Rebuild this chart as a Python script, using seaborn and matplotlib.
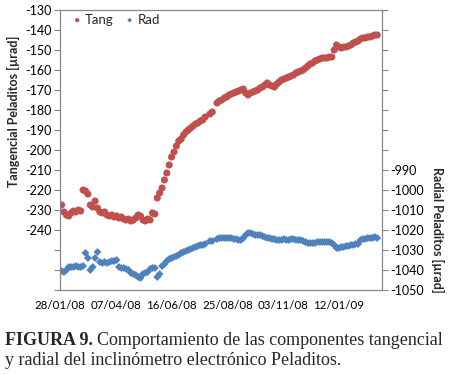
import pandas as pd
import seaborn as sns
import matplotlib.pyplot as plt
import matplotlib.dates as mdates

# day offsets from 28/01/2008 and readings (µrad)
start = pd.Timestamp('2008-01-28')
days = [2, 5, 8, 11, 14, 17, 20, 23, 26, 29,
        32, 35, 38, 41, 44, 47, 50, 53, 56, 59,
        62, 65, 68, 71, 74, 77, 80, 83, 86, 89,
        92, 95, 98, 101, 104, 107, 110, 113, 116, 119,
        122, 125, 128, 131, 134, 137, 140, 143, 146, 149,
        152, 155, 158, 161, 164, 167, 170, 173, 176, 179,
        182, 188, 191,
        197, 200, 203, 206, 209, 212, 215, 218, 221, 224,
        227, 230, 233, 236, 239, 242, 245, 248, 251, 254,
        257, 260, 263, 266, 269, 272, 275, 278, 281, 284,
        287, 290, 293, 296, 299, 302, 305, 308, 311, 314,
        317, 320, 323, 326, 329, 332, 335, 338, 341, 344,
        347, 350, 353, 356, 359, 362, 365, 368, 371, 374,
        377, 380, 383, 386, 389, 392, 395, 398]

tang = [-227.5, -231, -232.5, -233, -231.5, -230.5, -231, -230, -230.5, -220,
        -220.5, -222, -227.5, -228.5, -225.5, -229, -231, -231.5, -231, -232.5,
        -233, -232.5, -233.5, -233, -234, -233.5, -234.5, -235, -234.5, -235.5,
        -235, -234, -232.5, -233, -235, -235.5, -234.5, -235, -231.5, -232,
        -224, -221.5, -219, -215, -211.5, -207.5, -203.5, -201, -198, -195.5,
        -194.5, -192.5, -191, -190, -189, -188, -187, -186.5, -185.5, -185,
        -183.5, -182, -181,
        -176.5, -175.5, -175, -174, -173.5, -172.5, -172, -171.5, -171, -170.5,
        -170, -169.5, -171.5, -172.5, -171.5, -171, -170.5, -170, -169, -168.5,
        -167.5, -166.5, -167.5, -168, -168.5, -167, -166, -165, -164.5, -164,
        -163.5, -163, -162.5, -161.5, -161, -160.5, -160, -159, -158, -157,
        -156.5, -155.5, -155, -154.5, -154, -154, -154, -153.5, -153.5, -150,
        -147.5, -148.5, -149, -148.5, -148.5, -148, -147.5, -146.5, -146, -145.5,
        -144.5, -144, -144, -143.5, -143.5, -143, -142.5, -142.5]

rad = [-1040.5, -1041, -1040, -1038.5, -1038.5, -1038.5, -1038, -1038.5, -1038.5, -1038,
       -1031.5, -1034, -1040, -1038.5, -1034, -1031, -1036, -1036.5, -1036, -1036.5,
       -1036, -1035.5, -1035.5, -1035, -1038.5, -1039, -1039, -1039.5, -1040, -1041.5,
       -1042, -1042.5, -1043.5, -1044, -1042, -1041.5, -1041, -1039.5, -1039, -1039,
       -1043.5, -1042, -1038, -1037, -1035.5, -1034.5, -1034, -1033.5, -1033, -1032.5,
       -1031.5, -1031, -1030.5, -1030, -1029.5, -1029, -1028.5, -1028, -1027.5, -1027.5,
       -1027, -1025.5, -1025.5,
       -1024.5, -1024, -1024, -1024, -1024, -1024, -1024, -1024.5, -1024.5, -1025,
       -1025, -1024, -1022.5, -1021.5, -1021.5, -1022, -1022.5, -1022.5, -1022.5, -1023,
       -1023.5, -1024, -1024, -1024.5, -1024.5, -1025, -1025, -1025, -1024.5, -1025,
       -1025, -1024.5, -1024.5, -1025, -1025, -1025, -1025.5, -1026, -1026.5, -1026.5,
       -1026.5, -1026.5, -1026, -1026, -1026, -1026, -1026, -1026, -1026.5, -1027.5,
       -1029, -1029, -1028.5, -1028.5, -1028, -1028, -1027.5, -1027.5, -1027, -1027,
       -1025, -1024.5, -1024.5, -1024, -1024, -1024, -1023.5, -1024]

tick_dates = ['2008-01-28', '2008-04-07', '2008-06-16', '2008-08-25', '2008-11-03', '2009-01-12']

dates = start + pd.to_timedelta(days, unit='D')
df = pd.DataFrame({'fecha': dates, 'Tang': tang, 'Rad': rad})

sns.set_style('white')
plt.rcParams['font.family'] = ['Lato', 'DejaVu Sans']
red = '#C0504D'
blue = '#4F81BD'
grey = '#868686'

fig = plt.figure(figsize=(4.5, 3.75), dpi=100)
ax = fig.add_axes([60 / 450, 85 / 375, 322 / 450, 280 / 375])
ax2 = ax.twinx()

sns.scatterplot(data=df, x='fecha', y='Tang', ax=ax, color=red, marker='o', s=26,
                edgecolor='none', label='Tang', legend=False)
sns.scatterplot(data=df, x='fecha', y='Rad', ax=ax2, color=blue, marker='D', s=16,
                edgecolor='none', label='Rad', legend=False)

# x axis
ax.set_xlim(start, start + pd.Timedelta(days=404))
ax.set_xticks(pd.to_datetime(tick_dates))
ax.xaxis.set_major_formatter(mdates.DateFormatter('%d/%m/%y'))
ax.set_xticks(pd.date_range(start, start + pd.Timedelta(days=400), freq='10D'), minor=True)

# left axis
ax.set_ylim(-270, -130)
left_ticks = list(range(-270, -129, 10))
ax.set_yticks(left_ticks)
ax.set_yticklabels([str(t) if t >= -240 else '' for t in left_ticks])

# right axis
ax2.set_ylim(-1050, -910)
right_ticks = list(range(-1050, -909, 10))
ax2.set_yticks(right_ticks)
ax2.set_yticklabels([str(t) if t <= -990 else '' for t in right_ticks])

for a in (ax, ax2):
    for sp in a.spines.values():
        sp.set_color(grey)
        sp.set_linewidth(0.8)
    a.tick_params(which='both', direction='out', color=grey, width=0.8, labelsize=9, labelcolor='black')
    a.tick_params(which='major', length=4, pad=2)
    a.tick_params(which='minor', length=4)
    a.set_xlabel('')
    a.set_ylabel('')
ax.tick_params(axis='x', which='both', labelsize=8.3, pad=3)
ax.tick_params(axis='y', left=True, right=False)
ax2.tick_params(axis='y', right=True, left=False)

fig.text(13 / 450, 1 - 111 / 375, 'Tangencial Peladitos [µrad]', rotation=90,
         ha='center', va='center', fontsize=9, fontweight='bold')
fig.text(438 / 450, 1 - 230 / 375, 'Radial Peladitos [µrad]', rotation=-90,
         ha='center', va='center', fontsize=9, fontweight='bold')

h1, l1 = ax.get_legend_handles_labels()
h2, l2 = ax2.get_legend_handles_labels()
for lg in (ax.get_legend(), ax2.get_legend()):
    if lg is not None:
        lg.remove()
ax2.legend(h1 + h2, l1 + l2, loc='upper left', ncol=2, frameon=False, fontsize=9.5,
           handletextpad=0.0, columnspacing=0.6, markerscale=0.6, handlelength=1.2,
           bbox_to_anchor=(0.0, 1.02), borderaxespad=0.3)

# caption
serif = ['Liberation Serif', 'DejaVu Serif']
t1 = fig.text(5 / 450, 1 - 345 / 375, 'FIGURA 9.', family=serif, fontweight='bold',
              fontsize=13, va='baseline', ha='left')
fig.canvas.draw()
bb = t1.get_window_extent(fig.canvas.get_renderer())
x_after = (bb.x1 + 4) / fig.bbox.width
fig.text(x_after, 1 - 345 / 375, 'Comportamiento de las componentes tangencial',
         family=serif, fontsize=13, va='baseline', ha='left')
fig.text(5 / 450, 1 - 365 / 375, 'y radial del inclinómetro electrónico Peladitos.',
         family=serif, fontsize=13, va='baseline', ha='left')

fig.savefig('out.png', dpi=100)
